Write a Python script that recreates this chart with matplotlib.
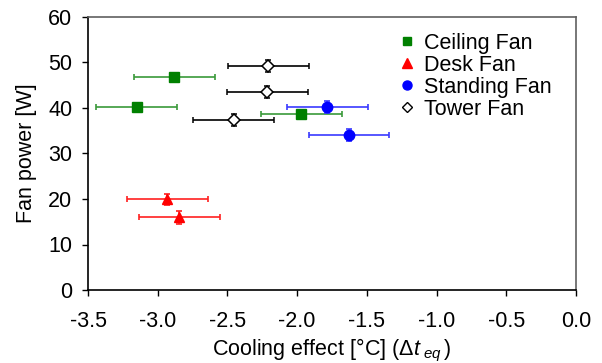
import matplotlib
matplotlib.use("Agg")
import matplotlib.pyplot as plt
from matplotlib.lines import Line2D

plt.rcParams['font.family'] = ['Liberation Sans', 'DejaVu Sans']
plt.rcParams['mathtext.fontset'] = 'custom'
plt.rcParams['mathtext.rm'] = 'Liberation Sans'
plt.rcParams['mathtext.it'] = 'Liberation Sans:italic'

# Data (cooling effect in °C, fan power in W)
ceiling_x = [-2.88, -3.15, -1.97]
ceiling_y = [46.8, 40.2, 38.6]
ceiling_xerr = [0.29, 0.29, 0.29]
ceiling_yerr = [1.0, 1.0, 1.0]

desk_x = [-2.93, -2.845]
desk_y = [19.9, 16.0]
desk_xerr = [0.29, 0.29]
desk_yerr = [1.3, 1.4]

standing_x = [-1.783, -1.628]
standing_y = [40.2, 34.1]
standing_xerr = [0.29, 0.29]
standing_yerr = [1.4, 1.35]

tower_x = [-2.206, -2.214, -2.455]
tower_y = [49.2, 43.5, 37.4]
tower_xerr = [0.29, 0.29, 0.29]
tower_yerr = [1.3, 1.3, 1.3]

x_ticks = [-3.5, -3.0, -2.5, -2.0, -1.5, -1.0, -0.5, 0.0]
y_ticks = [0, 10, 20, 30, 40, 50, 60]

fig = plt.figure(figsize=(6.02, 3.63), dpi=100)
ax = fig.add_axes([88/602, 1-290/363, 488/602, 273/363])

common = dict(linestyle='none', capsize=2.5, elinewidth=1.2, capthick=1.2)
ax.errorbar(ceiling_x, ceiling_y, xerr=ceiling_xerr, yerr=ceiling_yerr, marker='s',
            color='#008000', ecolor='#3a9a3a', markersize=6.5, label='Ceiling Fan', **common)
ax.errorbar(desk_x, desk_y, xerr=desk_xerr, yerr=desk_yerr, marker='^',
            color='#ff0000', ecolor='#ff2020', markersize=7.5, label='Desk Fan', **common)
ax.errorbar(standing_x, standing_y, xerr=standing_xerr, yerr=standing_yerr, marker='o',
            color='#0000ff', ecolor='#3a3aff', markersize=7.5, label='Standing Fan', **common)
ax.errorbar(tower_x, tower_y, xerr=tower_xerr, yerr=tower_yerr, marker='D',
            color='black', ecolor='black', markerfacecolor='white', markeredgecolor='black',
            markeredgewidth=1.1, markersize=6, label='Tower Fan', **common)

ax.set_xlim(-3.5, 0.0)
ax.set_ylim(0, 60)
ax.set_xticks(x_ticks)
ax.set_xticklabels([f"{v:.1f}" for v in x_ticks])
ax.set_yticks(y_ticks)
ax.tick_params(direction='out', length=4.3, width=1, labelsize=15.5)
ax.tick_params(axis='x', pad=11)
ax.tick_params(axis='y', pad=7)

for s in ['left', 'bottom']:
    ax.spines[s].set_color('black')
    ax.spines[s].set_linewidth(1.2)
for s in ['top', 'right']:
    ax.spines[s].set_color('#606060')
    ax.spines[s].set_linewidth(1.2)

ax.set_xlabel(r'Cooling effect [°C] ($\mathit{Δt}_{\ \mathit{eq}}\,$)', fontsize=15.5, labelpad=3)
ax.set_ylabel('Fan power [W]', fontsize=15.5, labelpad=8)

leg_handles = [
    Line2D([], [], linestyle='none', marker='s', color='#008000', markersize=6),
    Line2D([], [], linestyle='none', marker='^', color='#ff0000', markersize=6.5),
    Line2D([], [], linestyle='none', marker='o', color='#0000ff', markersize=6.5),
    Line2D([], [], linestyle='none', marker='D', markerfacecolor='white',
           markeredgecolor='black', markersize=5),
]
ax.legend(leg_handles, ['Ceiling Fan', 'Desk Fan', 'Standing Fan', 'Tower Fan'],
          loc='upper left', bbox_to_anchor=(0.636, 0.943), frameon=False,
          fontsize=15.5, handlelength=0.8, handletextpad=0.4, labelspacing=0.05,
          borderpad=0, borderaxespad=0)

fig.savefig('out.png', dpi=100)
